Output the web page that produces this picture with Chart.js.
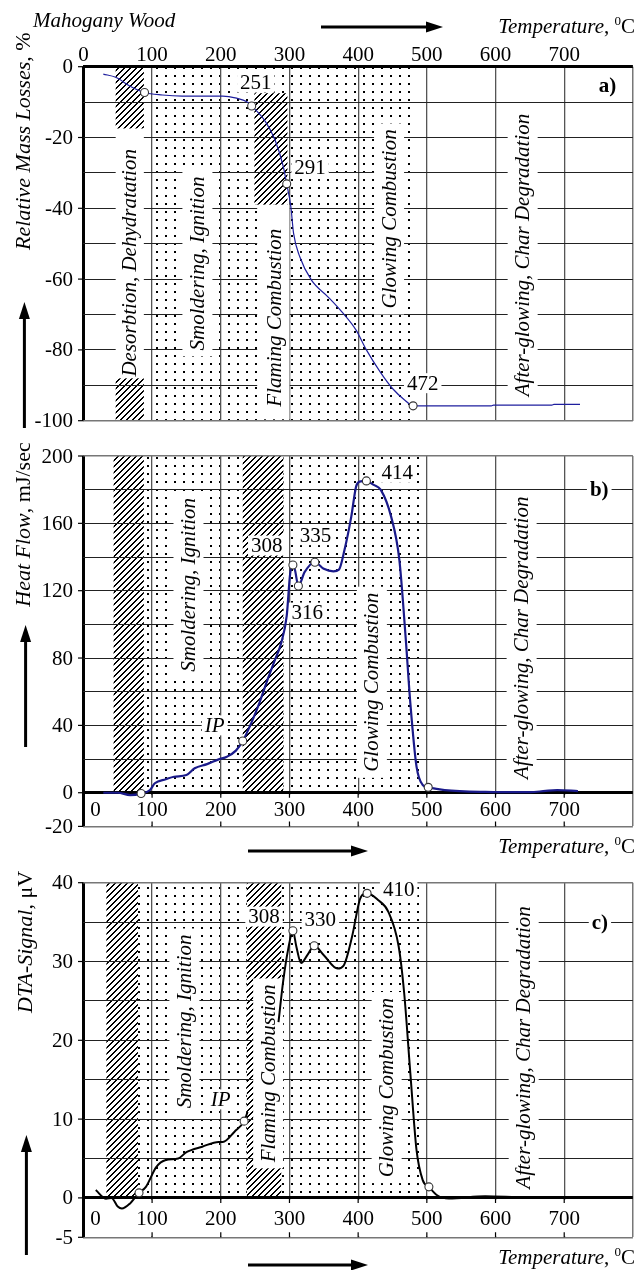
<!DOCTYPE html>
<html>
<head>
<meta charset="utf-8">
<script src="https://cdn.jsdelivr.net/npm/chart.js@4.4.1/dist/chart.umd.min.js"></script>
<style>
  body { margin: 0; background: #fff; }
  #page { position: relative; width: 638px; height: 1270px; overflow: hidden; background: #fff; }
  #page canvas { position: absolute; left: 0; }
</style>
</head>
<body>
<div id="page">
  <canvas id="chart-a" width="638" height="430" style="top:0"></canvas>
  <canvas id="chart-b" width="638" height="440" style="top:430px"></canvas>
  <canvas id="chart-c" width="638" height="410" style="top:860px"></canvas>
</div>
<script>
const X_TICKS = [0, 100, 200, 300, 400, 500, 600, 700];

// a) relative mass losses, %
const TEMP_A = [29, 47, 68, 89, 115, 144, 203, 223, 238, 245, 265, 279, 291, 296, 302, 306, 315, 332, 356, 376, 397, 412, 432, 450, 468, 480, 594, 597, 682, 685, 723];
const MASS_A = [-2.1, -3.0, -5.5, -7.3, -8.0, -8.3, -8.3, -8.9, -9.9, -11.1, -15.5, -20.7, -28.2, -33.1, -39.5, -47.1, -53.7, -60.3, -65.0, -69.2, -74.4, -80.0, -86.2, -90.9, -94.2, -95.8, -95.8, -95.6, -95.6, -95.4, -95.4];
const MARK_T_A = [89, 245, 296, 480];
const MARK_V_A = [-7.3, -11.1, -33.1, -95.8];
const Y_TICKS_A = [0, -20, -40, -60, -80, -100];

// b) heat flow, mJ/sec
const TEMP_B = [29, 50, 68, 84, 97, 104, 120, 132, 150, 162, 180, 197, 209, 222, 232, 245, 256, 268, 279, 288, 296, 301, 305, 308, 313, 322, 337, 350, 364, 372, 380, 390, 397, 402, 412, 422, 433, 448, 460, 469, 476, 485, 494, 502, 526, 585, 650, 673, 690, 720];
const HEAT_B = [0, 0, -1.4, -0.5, 1.6, 5.6, 8, 9.5, 10.5, 14.5, 17, 19.8, 21.4, 25, 30.7, 42, 53.1, 67, 79, 89, 105, 130, 135.3, 132.3, 122.8, 131, 136.9, 133, 131.5, 132.5, 144, 164, 181.8, 184.8, 185.2, 183, 179.9, 164, 138.3, 93, 53.1, 15.5, 4.6, 3.2, 1.6, 0.5, 0.3, 1.1, 1.5, 1.0];
const MARK_T_B = [84, 232, 305, 313, 337, 412, 502];
const MARK_V_B = [-0.5, 30.7, 135.3, 122.8, 136.9, 185.2, 3.2];
const Y_TICKS_B = [200, 160, 120, 80, 40, 0, -20];

// c) DTA signal, uV (gap where the label hides the curve)
const TEMP_C = [18, 33, 41, 50, 56, 68, 81, 91, 106, 120, 138, 150, 173, 197, 203, 220, 234, 239, 260, 284, 291, 298, 305, 310, 317, 326, 336, 350, 370, 379, 391, 401, 404, 413, 429, 444, 459, 467, 476, 485, 494, 503, 515, 532, 585, 644, 735];
const DTA_C = [1.0, -0.1, 0, -1.1, -1.35, -0.7, 0.64, 1.4, 3.9, 4.8, 5.0, 5.8, 6.5, 7.1, 7.1, 8.4, 9.74, 10.9, null, 22.3, 27.6, 31.5, 33.9, 31.9, 29.8, 30.8, 32.0, 30.8, 29.1, 29.5, 33.1, 37.4, 38.2, 38.65, 37.8, 36.3, 31.9, 26, 15.8, 6.06, 2.25, 1.4, 0.34, -0.08, 0.2, 0.07, 0.1];
const MARK_T_C = [81, 234, 305, 336, 413, 503];
const MARK_V_C = [0.64, 9.74, 33.9, 32.0, 38.65, 1.4];
const Y_TICKS_C = [40, 30, 20, 10, 0, -5];

const SERIF = '"Liberation Serif", "Times New Roman", serif';
const f = (size, style) => (style ? style + ' ' : '') + size + 'px ' + SERIF;
const pts = (xs, ys) => xs.map((x, i) => ({ x, y: ys[i] }));

// fill patterns: crisp diagonal hatch and dot grid
const HATCH = document.createElement('canvas');
HATCH.width = 6; HATCH.height = 6;
(() => {
  const g = HATCH.getContext('2d');
  g.fillStyle = '#000';
  for (let i = 0; i < 6; i++) {
    g.fillRect(i, 5 - i, 1, 1);
    g.fillRect(i, (6 - i) % 6, 1, 1);
  }
})();
const DOTS = document.createElement('canvas');
DOTS.width = 9; DOTS.height = 8;
DOTS.getContext('2d').fillRect(3, 3, 2, 2);

function box(chart, r) {
  const sx = chart.scales.x, sy = chart.scales.y;
  const l = sx.getPixelForValue(r[0]), rr = sx.getPixelForValue(r[1]);
  const t = sy.getPixelForValue(r[3]), b = sy.getPixelForValue(r[2]);
  return [l, t, rr - l, b - t];
}

function runs(ctx, parts, x, y, rot) {
  ctx.save();
  ctx.translate(x, y);
  if (rot) ctx.rotate(-Math.PI / 2);
  ctx.textAlign = 'left'; ctx.textBaseline = 'alphabetic'; ctx.fillStyle = '#000';
  let cx = 0;
  parts.forEach(([t, font, dy]) => { ctx.font = font; ctx.fillText(t, cx, dy || 0); cx += ctx.measureText(t).width; });
  ctx.restore();
}

function tempLabel(ctx, right, base) {
  const parts = [['Temperature', f(21, 'italic')], [', ', f(21)], ['0', f(13), -8], ['C', f(21)]];
  let w = 0;
  parts.forEach(([t, font]) => { ctx.font = font; w += ctx.measureText(t).width; });
  runs(ctx, parts, right - w, base, false);
}

function arrow(ctx, x0, y0, x1, y1) {
  const ang = Math.atan2(y1 - y0, x1 - x0), L = 17, W = 5.5;
  const bx = x1 - L * Math.cos(ang), by = y1 - L * Math.sin(ang);
  ctx.save();
  ctx.strokeStyle = '#000'; ctx.fillStyle = '#000'; ctx.lineWidth = 3;
  ctx.beginPath(); ctx.moveTo(x0, y0); ctx.lineTo(bx, by); ctx.stroke();
  ctx.beginPath(); ctx.moveTo(x1, y1);
  ctx.lineTo(bx + W * Math.sin(ang), by - W * Math.cos(ang));
  ctx.lineTo(bx - W * Math.sin(ang), by + W * Math.cos(ang));
  ctx.closePath(); ctx.fill();
  ctx.restore();
}

function panelPlugin(p) {
  return {
    id: 'panel-' + p.id,
    beforeDraw(chart) {
      const ctx = chart.ctx;
      ctx.save();
      const dots = ctx.createPattern(DOTS, 'repeat');
      const hatch = ctx.createPattern(HATCH, 'repeat');
      p.dots.forEach(r => { ctx.fillStyle = dots; ctx.fillRect(...box(chart, r)); });
      p.hatch.forEach(r => {
        const b = box(chart, r);
        ctx.fillStyle = '#fff'; ctx.fillRect(...b);
        ctx.fillStyle = hatch; ctx.fillRect(...b);
      });
      ctx.restore();
    },
    beforeDatasetsDraw(chart) {
      const ctx = chart.ctx, sx = chart.scales.x, sy = chart.scales.y, a = chart.chartArea;
      ctx.save();
      if (p.belowZero) {
        const y0 = sy.getPixelForValue(0);
        ctx.fillStyle = '#fff';
        ctx.fillRect(a.left + 2, y0 + 2, a.right - a.left - 4, a.bottom - y0 - 3);
      }
      // phase names, vertical on white strips
      p.phases.forEach(ph => {
        const cx = sx.getPixelForValue(ph.x), cy = sy.getPixelForValue(ph.y);
        ctx.font = f(21, 'italic');
        const w = ctx.measureText(ph.text).width;
        ctx.fillStyle = '#fff';
        if (ph.box) ctx.fillRect(...box(chart, ph.box));
        else ctx.fillRect(cx - 15, cy - w / 2 - 6, 30, w + 12);
        ctx.save();
        ctx.translate(cx, cy); ctx.rotate(-Math.PI / 2);
        ctx.fillStyle = '#000'; ctx.textAlign = 'center'; ctx.textBaseline = 'middle';
        ctx.fillText(ph.text, 0, 1);
        ctx.restore();
      });
      // peak temperatures and panel tag
      p.notes.forEach(n => {
        const cx = sx.getPixelForValue(n.x), cy = sy.getPixelForValue(n.y);
        ctx.font = n.bold ? f(21, 'bold') : (n.italic ? f(21, 'italic') : f(21));
        const w = ctx.measureText(n.text).width;
        ctx.fillStyle = '#fff';
        ctx.fillRect(cx - w / 2 - 3, cy - 10, w + 6, 20);
        ctx.fillStyle = '#000'; ctx.textAlign = 'center'; ctx.textBaseline = 'middle';
        ctx.fillText(n.text, cx, cy + 1);
      });
      ctx.restore();
    },
    afterDraw(chart) {
      const ctx = chart.ctx, sx = chart.scales.x, sy = chart.scales.y, a = chart.chartArea;
      ctx.save();
      ctx.fillStyle = '#000'; ctx.strokeStyle = '#000';
      ctx.font = f(21);
      ctx.textAlign = 'center'; ctx.textBaseline = 'middle';
      X_TICKS.forEach(v => {
        ctx.fillText(String(v), sx.getPixelForValue(v) + (v === 0 ? p.zeroShift : 0), p.xLabelY);
      });
      ctx.textAlign = 'right';
      ctx.lineWidth = 1.2;
      p.yTicks.forEach(v => {
        const y = sy.getPixelForValue(v);
        ctx.fillText(String(v), 73, y + 1);
        ctx.beginPath(); ctx.moveTo(78, y); ctx.lineTo(a.left, y); ctx.stroke();
      });
      if (p.belowZero) {
        const y0 = sy.getPixelForValue(0);
        X_TICKS.slice(1).forEach(v => {
          const x = sx.getPixelForValue(v);
          ctx.beginPath();
          ctx.moveTo(x, y0); ctx.lineTo(x, y0 + 5);
          ctx.moveTo(x, a.bottom); ctx.lineTo(x, a.bottom - 5);
          ctx.stroke();
        });
      }
      runs(ctx, p.yTitle, p.yTitleX + 7, p.yTitleY, true);
      p.extra(ctx);
      ctx.restore();
    }
  };
}

function makeChart(id, p) {
  const strong = v => v === 0;
  return new Chart(document.getElementById(id), {
    type: 'line',
    data: {
      datasets: [
        { data: p.marks, showLine: false, order: 0, pointRadius: 4, pointHoverRadius: 4,
          pointBackgroundColor: '#fff', pointBorderColor: '#333', pointBorderWidth: 1.1 },
        { data: p.curve, order: 1, borderColor: p.color, borderWidth: p.width, pointRadius: 0,
          cubicInterpolationMode: 'monotone', fill: false, spanGaps: false }
      ]
    },
    options: {
      responsive: false, animation: false, devicePixelRatio: 1,
      layout: { padding: p.pad },
      plugins: { legend: { display: false }, tooltip: { enabled: false } },
      scales: {
        x: {
          type: 'linear', min: 0, max: 800,
          ticks: { display: false, stepSize: 100 },
          border: { display: false },
          grid: {
            drawTicks: false,
            color: c => c.tick.value === 0 ? '#000' : (c.tick.value === 800 ? '#777' : '#555'),
            lineWidth: c => c.tick.value === 0 ? 3 : (c.tick.value === 800 ? 1.5 : 1.3)
          }
        },
        y: {
          type: 'linear', min: p.yMin, max: p.yMax,
          ticks: { display: false, stepSize: p.yStep },
          border: { display: false },
          grid: {
            drawTicks: false,
            color: c => strong(c.tick.value) ? '#000' : ((c.tick.value === p.yMin || c.tick.value === p.yMax) ? '#777' : '#222'),
            lineWidth: c => strong(c.tick.value) ? 3 : ((c.tick.value === p.yMin || c.tick.value === p.yMax) ? 1.5 : 1)
          }
        }
      }
    },
    plugins: [panelPlugin(p)]
  });
}

// panel a
makeChart('chart-a', {
  id: 'a', curve: pts(TEMP_A, MASS_A), marks: pts(MARK_T_A, MARK_V_A),
  color: '#1f1f9e', width: 1.2,
  pad: { left: 83.4, top: 66.7, right: 1.5, bottom: 9.3 },
  yMin: -100, yMax: 0, yStep: 10, yTicks: Y_TICKS_A,
  xLabelY: 55, zeroShift: 0, belowZero: false,
  dots: [[100, 482, -100, 0]],
  hatch: [[47, 88, -17.5, 0], [47, 88, -100, -88], [249, 297, -39, -7.5]],
  phases: [
    { text: 'Desorbtion, Dehydratation', x: 67.5, y: -55.4, box: [47, 88, -88, -17.5] },
    { text: 'Smoldering, Ignition', x: 166, y: -55.6 },
    { text: 'Flaming Combustion', x: 278, y: -70.9, box: [253, 300, -99.6, -39] },
    { text: 'Glowing Combustion', x: 445, y: -43 },
    { text: 'After-glowing, Char Degradation', x: 639.5, y: -53.2 }
  ],
  notes: [
    { text: '251', x: 251, y: -4.5 },
    { text: '291', x: 330, y: -28.5 },
    { text: '472', x: 494, y: -89.4 },
    { text: 'a)', x: 763, y: -5.4, bold: true }
  ],
  yTitle: [['Relative Mass Losses', f(22, 'italic')], [', %', f(22)]],
  yTitleX: 23, yTitleY: 250,
  extra(ctx) {
    runs(ctx, [['Mahogany Wood', f(21, 'italic')]], 33, 27, false);
    arrow(ctx, 321, 27, 443, 27);
    tempLabel(ctx, 635, 33);
    arrow(ctx, 24.4, 428, 24.4, 302);
  }
});

// panel b
makeChart('chart-b', {
  id: 'b', curve: pts(TEMP_B, HEAT_B), marks: pts(MARK_T_B, MARK_V_B),
  color: '#1a1a8a', width: 2.2,
  pad: { left: 83.4, top: 26, right: 1.5, bottom: 43.6 },
  yMin: -20, yMax: 200, yStep: 20, yTicks: Y_TICKS_B,
  xLabelY: 380, zeroShift: 12, belowZero: true,
  dots: [[88, 232, 0, 200], [291, 500, 0, 200]],
  hatch: [[44, 88, 0, 200], [232, 291, 0, 200]],
  phases: [
    { text: 'Smoldering, Ignition', x: 153, y: 123.5 },
    { text: 'Glowing Combustion', x: 420, y: 65.6 },
    { text: 'After-glowing, Char Degradation', x: 638, y: 92 }
  ],
  notes: [
    { text: '308', x: 267, y: 146.8 },
    { text: '335', x: 338, y: 153 },
    { text: '316', x: 326, y: 107 },
    { text: '414', x: 457, y: 190 },
    { text: 'IP', x: 191, y: 40, italic: true },
    { text: 'b)', x: 751, y: 180, bold: true }
  ],
  yTitle: [['Heat Flow', f(22, 'italic')], [', mJ/sec', f(22)]],
  yTitleX: 22.5, yTitleY: 176.7,
  extra(ctx) {
    arrow(ctx, 25.6, 317, 25.6, 195);
    arrow(ctx, 248, 421, 368, 421);
    tempLabel(ctx, 635, 423);
  }
});

// panel c
makeChart('chart-c', {
  id: 'c', curve: pts(TEMP_C, DTA_C), marks: pts(MARK_T_C, MARK_V_C),
  color: '#000', width: 2,
  pad: { left: 83.4, top: 22.7, right: 1.5, bottom: 32.7 },
  yMin: -5, yMax: 40, yStep: 5, yTicks: Y_TICKS_C,
  xLabelY: 359, zeroShift: 12, belowZero: true,
  dots: [[79.4, 238, 0, 40], [288, 500, 0, 40]],
  hatch: [[33.5, 79.4, 0, 40], [238, 288, 0, 40]],
  phases: [
    { text: 'Smoldering, Ignition', x: 147, y: 22.4 },
    { text: 'Flaming Combustion', x: 269, y: 15.8 },
    { text: 'Glowing Combustion', x: 441.5, y: 14 },
    { text: 'After-glowing, Char Degradation', x: 641, y: 19.1 }
  ],
  notes: [
    { text: '308', x: 263, y: 35.7 },
    { text: '330', x: 345, y: 35.3 },
    { text: '410', x: 459, y: 39.1 },
    { text: 'IP', x: 200, y: 12.5, italic: true },
    { text: 'c)', x: 752, y: 35, bold: true }
  ],
  yTitle: [['DTA-Signal', f(22, 'italic')], [', \u03BCV', f(22)]],
  yTitleX: 25, yTitleY: 153,
  extra(ctx) {
    arrow(ctx, 26.4, 395, 26.4, 275);
    arrow(ctx, 248, 405, 368, 405);
    tempLabel(ctx, 635, 404);
  }
});
</script>
</body>
</html>
